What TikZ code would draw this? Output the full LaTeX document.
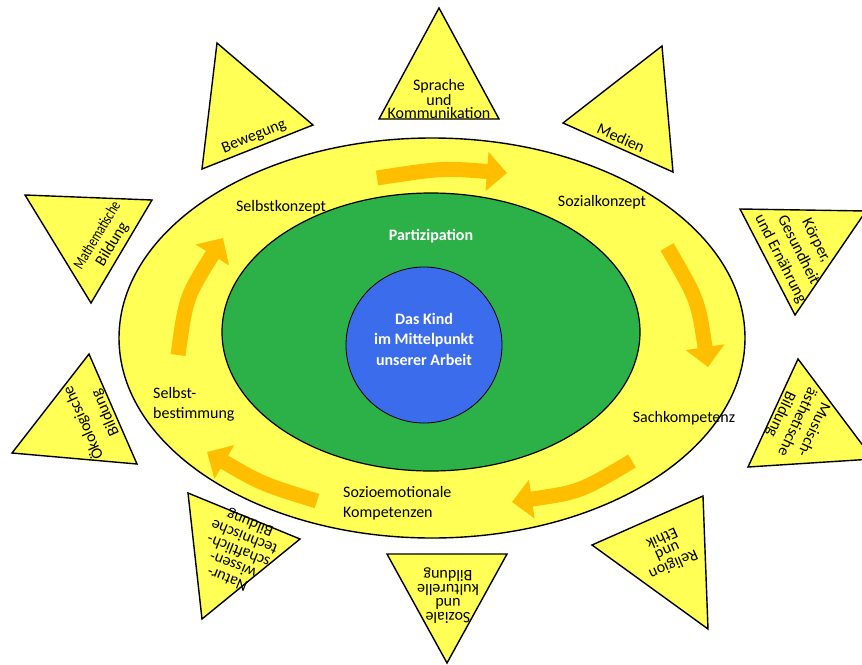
\documentclass[tikz,border=0pt]{standalone}
\usepackage{fontspec}
\usepackage{graphicx}
\setmainfont{Carlito}
\usetikzlibrary{arrows.meta}
\definecolor{ringgelb}{RGB}{255,255,85}
\definecolor{feldgruen}{RGB}{44,176,72}
\definecolor{kindblau}{RGB}{58,108,235}
\definecolor{pfeilorange}{RGB}{255,190,0}
\tikzset{
  dreieck/.style={draw=black,line width=1.4pt,fill=ringgelb,line join=miter},
  dtext/.style={align=center,inner sep=0pt,font=\fontsize{16}{#1}\selectfont},
  dtext/.default=14,
  ltext/.style={inner sep=0pt,font=\fontsize{16}{20}\selectfont},
  wtext/.style={inner sep=0pt,align=center,text=white,font=\fontsize{16}{20.5}\selectfont\bfseries},
  kreislauf/.style={draw=pfeilorange,line width=15pt,-{Triangle[width=38pt,length=20pt]}}
}
\begin{document}
\begin{tikzpicture}[x=1pt,y=-1pt]
      \useasboundingbox (0,0) rectangle (862,664);
      \draw[line width=1.4pt,fill=ringgelb] (432,338) ellipse [x radius=313pt, y radius=200pt];
      \begin{scope}
        \draw[kreislauf] (377,178) .. controls (442,168) .. (507,173);
        \draw[kreislauf] (667,247) .. controls (698,300) .. (708,367);
        \draw[kreislauf] (632,461) .. controls (580,492) .. (512,502);
        \draw[kreislauf] (317,501) .. controls (262,484) .. (207,452);
        \draw[kreislauf] (178,355) .. controls (186,297) .. (223,238);
      \end{scope}
      \draw[line width=1.2pt,fill=feldgruen] (431,332) ellipse [x radius=209pt, y radius=139pt];
      \draw[line width=0.8pt,fill=kindblau] (424,345) circle [radius=78pt];
      \draw
        (431,236) node[wtext] (partizipation) {Partizipation}
        (424,339) node[wtext] (kind) {Das Kind\\im Mittelpunkt\\unserer Arbeit}
        (281,207) node[ltext] (selbstkonzept) {Selbstkonzept}
        (602,202) node[ltext] (sozialkonzept) {Sozialkonzept}
        (684,418) node[ltext] (sachkompetenz) {Sachkompetenz}
        (343,503) node[ltext,align=left,anchor=west] (sozioemotional) {Sozioemotionale\\Kompetenzen}
        (153,404) node[ltext,align=left,anchor=west] (selbstbestimmung) {Selbst-\\bestimmung};
      \begin{scope}
        \draw[dreieck] (439,8) -- (379,119) -- (499,119) -- cycle;
        \draw[dreieck] (217,43) -- (202,169) -- (313,125) -- cycle;
        \draw[dreieck] (662,46) -- (563,123) -- (673,172) -- cycle;
        \draw[dreieck] (740,209) -- (866,211) -- (795,315) -- cycle;
        \draw[dreieck] (798,359) -- (873,459) -- (748,467) -- cycle;
        \draw[dreieck] (703,496) -- (708,629) -- (592,545) -- cycle;
        \draw[dreieck] (387,554) -- (507,554) -- (447,663) -- cycle;
        \draw[dreieck] (188,493) -- (300,539) -- (202,619) -- cycle;
        \draw[dreieck] (89,354) -- (137,464) -- (12,453) -- cycle;
        \draw[dreieck] (25,195) -- (152,200) -- (91,303) -- cycle;
      \end{scope}
      \draw
        (439,99) node[dtext=13.5] (sprache) {Sprache\\und\\Kommunikation}
        (254,137) node[dtext,rotate=22] (bewegung) {Bewegung}
        (621,138) node[dtext,rotate=-24] (medien) {Medien}
        (798,250) node[dtext=20,rotate=-63] (koerper) {Körper,\\Gesundheit\\und Ernährung}
        (797,422) node[dtext=18,rotate=-115] (musisch) {Musisch-\\ästhetische\\Bildung}
        (668,552) node[dtext=13.5,rotate=204] (religion) {Religion\\und\\Ethik}
        (448,596) node[dtext,rotate=180] (soziale) {Soziale\\und\\kulturelle\\Bildung}
        (239,550) node[dtext=15,rotate=158] (natur) {Natur-\\wissen-\\schaftlich-\\technische\\Bildung}
        (94,418) node[dtext=24,rotate=114] (oekologie) {Ökologische\\Bildung}
        (105,240) node[dtext=17,rotate=59] (mathematik) {\scalebox{0.75}[1]{Mathematische}\\Bildung};
    \end{tikzpicture}
\end{document}
